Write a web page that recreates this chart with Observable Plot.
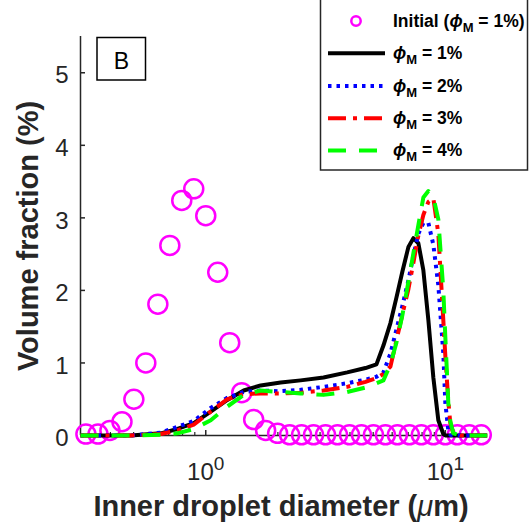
<!DOCTYPE html>
<html>
<head>
<meta charset="utf-8">
<script src="https://cdn.jsdelivr.net/npm/d3@7"></script>
<script src="https://cdn.jsdelivr.net/npm/@observablehq/plot@0.6"></script>
<style>
html, body { margin: 0; padding: 0; background: #fff; }
#chart { position: relative; width: 529px; height: 531px; }
</style>
</head>
<body>
<div id="chart"></div>
<script>
// ---- data ----
const initialDiameter = [0.316, 0.355, 0.398, 0.447, 0.501, 0.562, 0.631, 0.708, 0.794, 0.891,
  1.000, 1.122, 1.259, 1.413, 1.585, 1.778, 1.995, 2.239, 2.512, 2.818, 3.162, 3.548, 3.981,
  4.467, 5.012, 5.623, 6.310, 7.079, 7.943, 8.913, 10.00, 11.22, 12.59, 14.13];
const initialVolume = [0.02, 0.02, 0.07, 0.19, 0.50, 1.00, 1.81, 2.62, 3.24, 3.40,
  3.03, 2.25, 1.28, 0.59, 0.22, 0.07, 0.03, 0.01, 0.01, 0.01, 0.01, 0.01, 0.01,
  0.01, 0.01, 0.01, 0.01, 0.01, 0.01, 0.01, 0.01, 0.01, 0.01, 0.01];

const lineDiameter = [0.30, 0.487, 0.649, 0.762, 0.891, 1.049, 1.231, 1.440, 1.695, 2.054,
  2.489, 3.102, 3.894, 4.642, 5.158, 5.516, 5.900, 6.250, 6.620, 7.015, 7.356, 7.718, 8.096,
  8.497, 8.913, 9.351, 9.810, 10.00, 10.29, 10.49, 10.80, 11.55, 14.96];
const phi1 = [0, 0, 0.03, 0.09, 0.17, 0.33, 0.49, 0.62, 0.69, 0.73,
  0.76, 0.80, 0.87, 0.93, 0.98, 1.24, 1.55, 1.90, 2.26, 2.60, 2.72, 2.65, 2.28,
  1.59, 0.80, 0.21, 0.02, 0, 0, 0, 0, 0, 0];
const phi2 = [0, 0, 0.04, 0.12, 0.20, 0.38, 0.52, 0.60, 0.62, 0.61,
  0.63, 0.67, 0.72, 0.77, 0.81, 0.87, 1.13, 1.46, 1.79, 2.14, 2.48, 2.78, 2.93,
  2.93, 2.63, 2.07, 1.13, 0.45, 0.07, 0.01, 0, 0, 0];
const phi3 = [0, 0, 0.02, 0.07, 0.15, 0.33, 0.50, 0.57, 0.58, 0.58,
  0.59, 0.62, 0.67, 0.74, 0.79, 0.85, 0.95, 1.31, 1.67, 2.02, 2.38, 2.76, 3.04,
  3.22, 3.27, 2.78, 1.59, 1.10, 0.48, 0.17, 0.03, 0, 0];
const phi4 = [0, 0, 0.01, 0.03, 0.09, 0.21, 0.40, 0.56, 0.62, 0.60,
  0.58, 0.56, 0.60, 0.66, 0.72, 0.76, 0.98, 1.28, 1.66, 2.12, 2.51, 2.90, 3.28,
  3.37, 3.29, 2.98, 2.00, 1.36, 0.45, 0.20, 0.03, 0, 0];

const yTicks = [0, 1, 2, 3, 4, 5];
const xMajorTicks = [1, 10];
const xMinorTicks = [0.4, 0.5, 0.6, 0.7, 0.8, 0.9, 2, 3, 4, 5, 6, 7, 8, 9];
const xTickLabels = ["10^0", "10^1"];
const seriesPhi = ["1%", "2%", "3%", "4%"];
const seriesColors = ["#000000", "#0000ff", "#ff0000", "#00ff00"];
const seriesDash = [null, "3.5,5", "18,7,4,7", "18,13"];
const initialLabel = "1%";
const xTitle = ["Inner droplet diameter (", "μ", "m)"];
const yTitle = "Volume fraction (%)";
const panelLabel = "B";

// ---- build tables ----
const initialRows = initialDiameter.map((d, i) => ({d, v: initialVolume[i]}));
const lineRows = lineDiameter.map((d, i) => ({d, p1: phi1[i], p2: phi2[i], p3: phi3[i], p4: phi4[i]}));
const axisColor = "#262626";
const font = "'Liberation Sans', Arial, Helvetica, sans-serif";

const lineMarks = ["p1", "p2", "p3", "p4"].map((key, i) => Plot.line(lineRows, {
  x: "d", y: key, stroke: seriesColors[i], strokeWidth: 4,
  strokeDasharray: seriesDash[i] || undefined, strokeLinecap: "butt", strokeLinejoin: "round"
}));

const svgNode = Plot.plot({
  width: 529, height: 531,
  marginLeft: 80, marginRight: 42, marginTop: 36, marginBottom: 96,
  style: {background: "white", fontFamily: font, color: axisColor, overflow: "visible"},
  x: {type: "log", domain: [0.3, 15]},
  y: {domain: [0, 5.5]},
  marks: [
    Plot.ruleY([0], {stroke: axisColor, strokeWidth: 1.5}),
    Plot.ruleX([0.3], {stroke: axisColor, strokeWidth: 1.5}),
    Plot.axisY(yTicks, {tickSize: -5, fill: "none", stroke: axisColor, strokeWidth: 1.5, label: null}),
    Plot.axisY(yTicks, {tickSize: 0, tickPadding: 12, fontSize: 24, dy: 3, label: null, tickFormat: d => String(d)}),
    Plot.axisX(xMajorTicks, {tickSize: -5, fill: "none", stroke: axisColor, strokeWidth: 1.5, label: null}),
    Plot.axisX(xMinorTicks, {tickSize: -3, fill: "none", stroke: axisColor, strokeWidth: 1.2, label: null}),
    Plot.axisX(xMajorTicks, {tickSize: 0, tickPadding: 27, fontSize: 24, label: null,
      tickFormat: d => xTickLabels[xMajorTicks.indexOf(d)]}),
    Plot.dot(initialRows, {x: "d", y: "v", r: 9.5, stroke: "#ff00ff", strokeWidth: 2.5, fill: "none"}),
    ...lineMarks
  ]
});
document.getElementById("chart").appendChild(svgNode);

const svg = d3.select(svgNode);

// superscripts in x tick labels
svg.selectAll('g[aria-label="x-axis tick label"] text').each(function () {
  const parts = this.textContent.split("^");
  if (parts.length === 2) {
    const t = d3.select(this);
    t.text(parts[0]);
    t.append("tspan").attr("dy", -10).attr("font-size", 19).text(parts[1]);
  }
});

// axis titles
const xt = svg.append("text").attr("x", 281).attr("y", 516).attr("text-anchor", "middle")
  .attr("font-family", font).attr("font-size", 29).attr("font-weight", "bold").attr("fill", axisColor);
xt.append("tspan").text(xTitle[0]);
xt.append("tspan").attr("font-style", "italic").attr("font-weight", "normal").text(xTitle[1]);
xt.append("tspan").text(xTitle[2]);

svg.append("text").attr("transform", "translate(38,236) rotate(-90)").attr("text-anchor", "middle")
  .attr("font-family", font).attr("font-size", 29).attr("font-weight", "bold").attr("fill", axisColor)
  .text(yTitle);

// panel label
svg.append("rect").attr("x", 97).attr("y", 37.5).attr("width", 48.5).attr("height", 42.5)
  .attr("fill", "white").attr("stroke", "#000").attr("stroke-width", 1.5);
svg.append("text").attr("x", 121.3).attr("y", 69).attr("text-anchor", "middle")
  .attr("font-family", font).attr("font-size", 23).attr("fill", "#000").text(panelLabel);

// legend
const lg = svg.append("g");
lg.append("rect").attr("x", 320.5).attr("y", -1).attr("width", 207).attr("height", 171)
  .attr("fill", "white").attr("stroke", axisColor).attr("stroke-width", 1.5);
const rowY = [21, 53.3, 86, 118.3, 150.5];
function phiText(g, y, prefix, value, suffix) {
  const t = g.append("text").attr("x", 393).attr("y", y + 5.5).attr("text-anchor", "start")
    .attr("font-family", font).attr("font-size", 17.5).attr("font-weight", "bold").attr("fill", "#000");
  if (prefix) t.append("tspan").text(prefix);
  t.append("tspan").attr("font-style", "italic").text("ϕ");
  t.append("tspan").attr("font-size", 13).attr("dy", 5).text("M");
  t.append("tspan").attr("dy", -5).text(" = " + value + (suffix || ""));
}
lg.append("circle").attr("cx", 356).attr("cy", rowY[0]).attr("r", 4.7)
  .attr("fill", "none").attr("stroke", "#ff00ff").attr("stroke-width", 2.5);
phiText(lg, rowY[0], "Initial (", initialLabel, ")");
seriesPhi.forEach((v, i) => {
  lg.append("line").attr("x1", 328).attr("x2", 385).attr("y1", rowY[i + 1]).attr("y2", rowY[i + 1])
    .attr("stroke", seriesColors[i]).attr("stroke-width", 4)
    .attr("stroke-dasharray", seriesDash[i]);
  phiText(lg, rowY[i + 1], null, v, null);
});
</script>
</body>
</html>
